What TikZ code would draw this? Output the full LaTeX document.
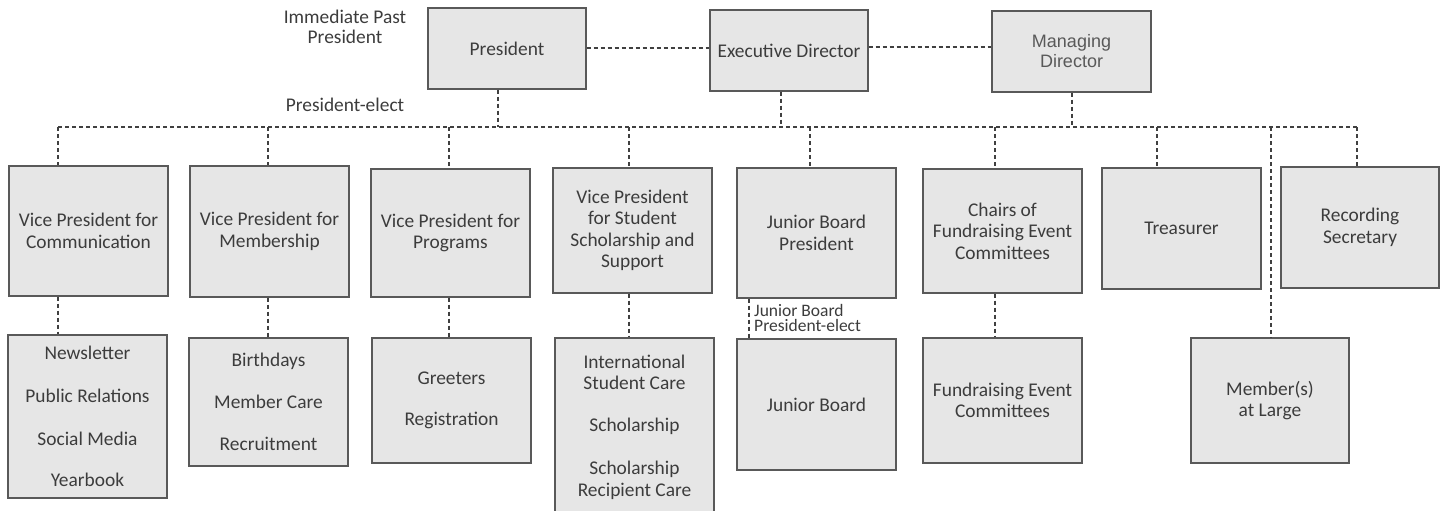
\documentclass[tikz,border=0pt]{standalone}
\usepackage{fontspec}
\setmainfont{Carlito}
\newfontfamily\arialfont{Liberation Sans}
\usepackage{tikz}

\definecolor{boxgray}{HTML}{595959}
\definecolor{boxfill}{HTML}{E6E6E6}
\definecolor{txtgray}{HTML}{3C3C3C}
\definecolor{linegray}{HTML}{404040}

\tikzset{
	orgbox/.style={draw=boxgray, fill=boxfill, line width=1.4pt, align=center, text=txtgray, inner sep=0pt, font=\fontsize{19.4}{21.5}\selectfont},
	dashlink/.style={draw=linegray, line width=1.2pt, dash pattern=on 4pt off 3pt},
	sidenote/.style={align=center, text=txtgray, inner sep=0pt, font=\fontsize{19.4}{20}\selectfont}
}

\begin{document}
\begin{tikzpicture}[x=1pt, y=-1pt]
		\useasboundingbox (0,0) rectangle (1445,511);
		\clip (0,0) rectangle (1445,511);
		% top row
		\node[orgbox, minimum width=158, minimum height=81] (pres) at (507,48.5) {President};
		\node[orgbox, minimum width=158, minimum height=81] (exec) at (789,50.5) {Executive Director};
		\node[orgbox, minimum width=159, minimum height=81, text=boxgray, font=\arialfont\fontsize{18}{20}\selectfont] (mdir) at (1071.5,51.5) {Managing\\Director};
		\node[sidenote] (past) at (345,27) {Immediate Past\\President};
		\node[sidenote] (elect) at (345,105) {President-elect};
		\coordinate (top1) at (0,48);
		\coordinate (top2) at (0,47);
		\draw[dashlink] (pres.east |- top1) -- (exec.west |- top1);
		\draw[dashlink] (exec.east |- top2) -- (mdir.west |- top2);
		% bus
		\coordinate (c1) at (58,127);
		\coordinate (c2) at (268,127);
		\coordinate (c3) at (449,127);
		\coordinate (c4) at (629,127);
		\coordinate (c5) at (810,127);
		\coordinate (c6) at (995,127);
		\coordinate (c7) at (1157,127);
		\coordinate (c8) at (1357,127);
		\coordinate (c9) at (1271,127);
		\coordinate (dPres) at (498,127);
		\coordinate (dExec) at (781,127);
		\coordinate (dMdir) at (1072,127);
		\draw[dashlink] (c1) -- (c8);
		\draw[dashlink] (pres.south -| dPres) -- (dPres);
		\draw[dashlink] (exec.south -| dExec) -- (dExec);
		\draw[dashlink] (mdir.south -| dMdir) -- (dMdir);
		% second row
		\node[orgbox, minimum width=159, minimum height=130] (vpcom) at (88.5,231) {Vice President for\\Communication};
		\node[orgbox, minimum width=159, minimum height=131] (vpmem) at (269.5,231.5) {Vice President for\\Membership};
		\node[orgbox, minimum width=159, minimum height=128] (vpprog) at (450.5,233) {Vice President for\\Programs};
		\node[orgbox, minimum width=159, minimum height=125] (vpstud) at (632.5,230.5) {Vice President\\for Student\\Scholarship and\\Support};
		\node[orgbox, minimum width=159, minimum height=130] (jbpres) at (816.5,233) {Junior Board\\President};
		\node[orgbox, minimum width=159, minimum height=124] (chairs) at (1002.5,231) {Chairs of\\Fundraising Event\\Committees};
		\node[orgbox, minimum width=159, minimum height=121] (treas) at (1181.5,228.5) {Treasurer};
		\node[orgbox, minimum width=158, minimum height=121] (recsec) at (1360,227.5) {Recording\\Secretary};
		\draw[dashlink] (c1) -- (vpcom.north -| c1);
		\draw[dashlink] (c2) -- (vpmem.north -| c2);
		\draw[dashlink] (c3) -- (vpprog.north -| c3);
		\draw[dashlink] (c4) -- (vpstud.north -| c4);
		\draw[dashlink] (c5) -- (jbpres.north -| c5);
		\draw[dashlink] (c6) -- (chairs.north -| c6);
		\draw[dashlink] (c7) -- (treas.north -| c7);
		\draw[dashlink] (c8) -- (recsec.north -| c8);
		% third row
		\node[orgbox, minimum width=159, minimum height=163] (news) at (87.5,416.5) {Newsletter\\[21.5pt]Public Relations\\[21.5pt]Social Media\\[20pt]Yearbook};
		\node[orgbox, minimum width=159, minimum height=128] (birth) at (268.5,402) {Birthdays\\[20.5pt]Member Care\\[21pt]Recruitment};
		\node[orgbox, minimum width=159, minimum height=125] (greet) at (451.5,400.5) {Greeters\\[19.5pt]Registration};
		\node[orgbox, minimum width=159, minimum height=178] (intl) at (634.5,427) {International\\Student Care\\[20.5pt]Scholarship\\[21.5pt]Scholarship\\Recipient Care};
		\node[orgbox, minimum width=159, minimum height=131] (jboard) at (816.5,404.5) {Junior Board};
		\node[orgbox, minimum width=159, minimum height=125] (fund) at (1002.5,400.5) {Fundraising Event\\Committees};
		\node[orgbox, minimum width=158, minimum height=125] (membr) at (1270,400.5) {Member(s)\\at Large};
		\coordinate (jbe) at (749,318);
		\node[align=left, text=txtgray, inner sep=0pt, anchor=west, font=\fontsize{17.5}{15}\selectfont] (jbelect) at (754,317.5) {Junior Board\\President-elect};
		\draw[dashlink] (vpcom.south -| c1) -- (news.north -| c1);
		\draw[dashlink] (vpmem.south -| c2) -- (birth.north -| c2);
		\draw[dashlink] (vpprog.south -| c3) -- (greet.north -| c3);
		\draw[dashlink] (vpstud.south -| c4) -- (intl.north -| c4);
		\draw[dashlink] (jbpres.south -| jbe) -- (jboard.north -| jbe);
		\draw[dashlink] (chairs.south -| c6) -- (fund.north -| c6);
		\draw[dashlink] (c9) -- (membr.north -| c9);
	\end{tikzpicture}
\end{document}
